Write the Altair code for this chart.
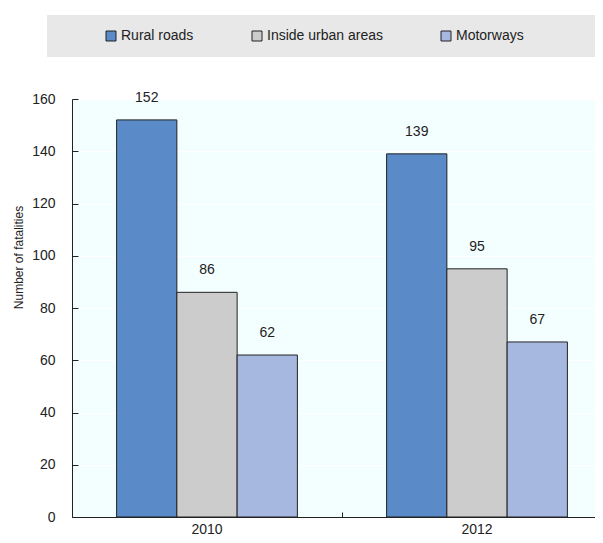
import altair as alt
import pandas as pd

years = ["2010", "2012"]
series = ["Rural roads", "Inside urban areas", "Motorways"]
rural = [152, 139]
urban = [86, 95]
motorways = [62, 67]
colors = ["#5a8ac8", "#cccccc", "#a6b7e0"]
y_ticks = [0, 20, 40, 60, 80, 100, 120, 140, 160]

rows = []
for i, yr in enumerate(years):
    for s, vals in zip(series, [rural, urban, motorways]):
        rows.append({"year": yr, "series": s, "value": vals[i]})
df = pd.DataFrame(rows)

FONT = "Liberation Sans"
INK = "#222222"
NB = "\u00a0"
ZW = "\u200b"

# bands of 270px starting at the y axis; the second band runs past the right edge
x_scale = alt.Scale(range=[0, 540], paddingInner=0, paddingOuter=0)
xo_scale = alt.Scale(paddingOuter=0.74, paddingInner=0)
y_scale = alt.Scale(domain=[0, 160], nice=False)

bars = alt.Chart(df).mark_bar(stroke=INK, strokeWidth=1).encode(
    x=alt.X("year:N", sort=years, scale=x_scale,
            axis=alt.Axis(title=None, labelAngle=0, ticks=False, domainColor=INK,
                          labelFontSize=14, labelFont=FONT, labelColor=INK,
                          labelPadding=5, grid=False, orient="bottom")),
    xOffset=alt.XOffset("series:N", sort=series, scale=xo_scale),
    y=alt.Y("value:Q", scale=y_scale,
            axis=alt.Axis(values=y_ticks, orient="left", ticks=False, domainColor=INK,
                          labelFontSize=14, labelFont=FONT, labelColor=INK, labelPadding=17,
                          grid=True, gridColor="#ffffff", gridWidth=1,
                          title="Number of fatalities", titleFont=FONT, titleFontSize=12,
                          titleFontWeight="normal", titleColor=INK, titleAngle=270,
                          titleX=-54, titleY=158, titleAlign="center", titleBaseline="middle")),
    color=alt.Color("series:N", sort=series,
                    scale=alt.Scale(domain=series, range=colors),
                    legend=alt.Legend(orient="none", legendX=-25, legendY=-84,
                                      direction="horizontal",
                                      title=ZW + NB * 11 + ZW, titleOrient="left", titleFont=FONT,
                                      titleFontSize=14, titlePadding=0,
                                      fillColor="#e8e8e8", padding=14,
                                      labelFont=FONT, labelFontSize=14, labelColor=INK,
                                      labelOffset=3, columnPadding=56, labelLimit=400,
                                      symbolType="square", symbolSize=100,
                                      symbolStrokeColor=INK, symbolStrokeWidth=1,
                                      symbolOpacity=1,
                                      labelExpr="datum.label == 'Motorways' ? datum.label + '" + NB * 15 + ZW + "' : datum.label")),
)

labels = alt.Chart(df).mark_text(dy=-22, baseline="middle", fontSize=14, font=FONT, color=INK).encode(
    x=alt.X("year:N", sort=years, scale=x_scale,
            axis=alt.Axis(orient="top", offset=-418, labels=False, domain=False, ticks=True,
                          tickSize=5, tickColor=INK, bandPosition=0, title=None, grid=False)),
    xOffset=alt.XOffset("series:N", sort=series, scale=xo_scale),
    y=alt.Y("value:Q", scale=y_scale,
            axis=alt.Axis(orient="right", offset=-523, labels=False, domain=False, ticks=True,
                          tickSize=6, tickColor=INK, title=None, grid=False, values=y_ticks)),
    text=alt.Text("value:Q"),
)

chart = alt.layer(bars, labels).resolve_axis(x="independent", y="independent").properties(
    width=523, height=418,
    padding={"left": 64, "top": 91, "right": 0, "bottom": 18},
    autosize=alt.AutoSizeParams(type="none"),
    background="#ffffff",
).configure_view(fill="#f3feff", stroke="transparent")

chart.save("out.html", embed_options={"renderer": "svg", "actions": False})
